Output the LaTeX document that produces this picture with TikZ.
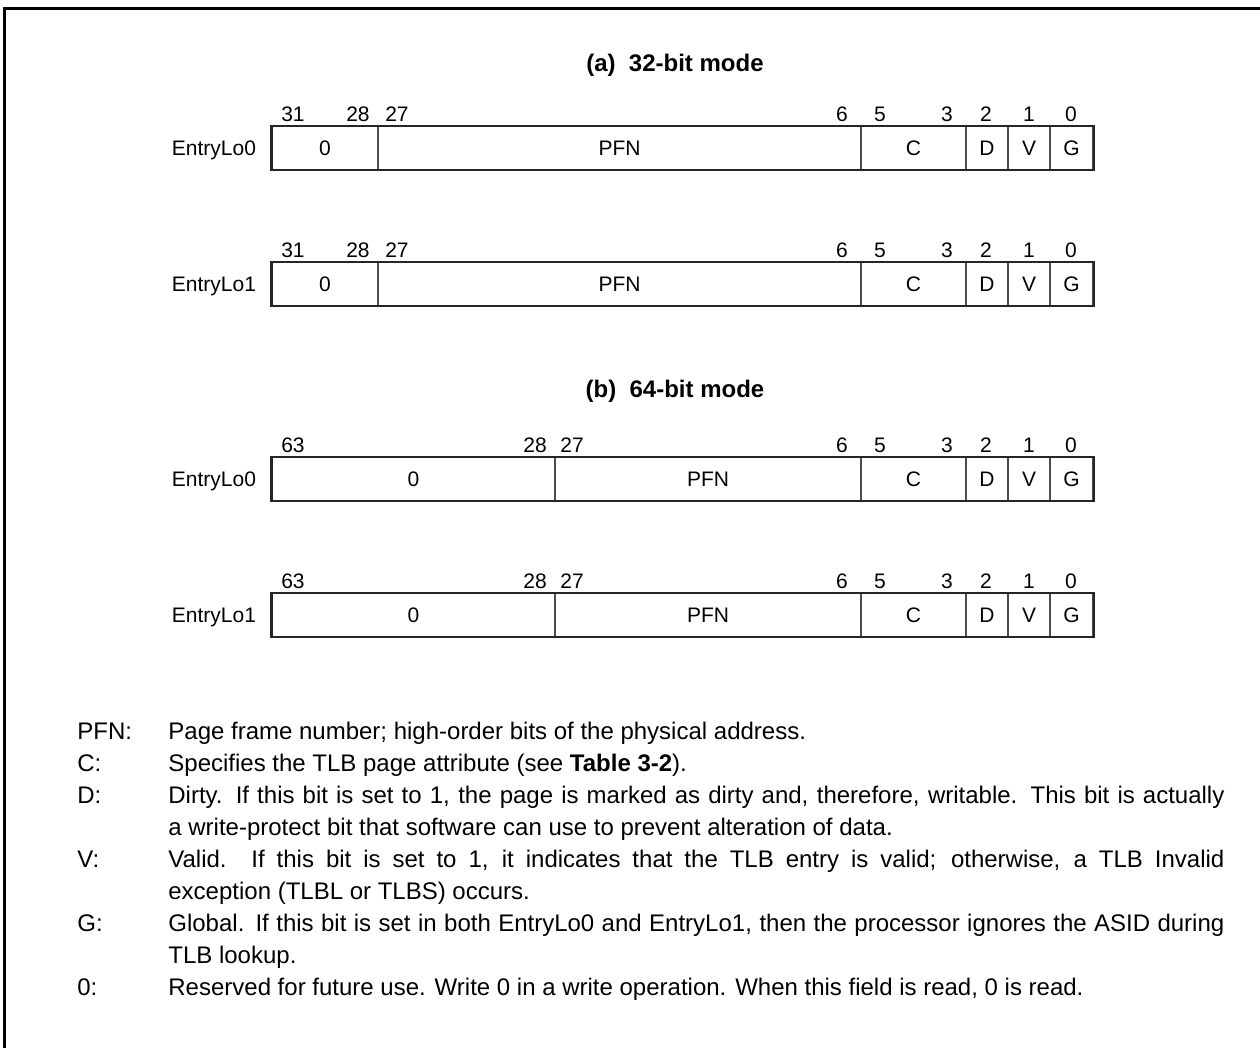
\documentclass[tikz,border=0pt]{standalone}
\usepackage{fontspec}
\setmainfont{Liberation Sans}
\usetikzlibrary{positioning}

\tikzset{
  field/.style={draw=black!70, line width=0.6pt, minimum height=21.5pt, inner sep=0pt},
  regframe/.style={draw=black!85, line width=1.1pt},
  bitnum/.style={inner sep=0pt},
  regname/.style={inner sep=0pt, anchor=base east},
  modetitle/.style={inner sep=0pt, font=\fontsize{12}{14}\selectfont\bfseries},
  keyname/.style={inner sep=0pt, anchor=base west, font=\fontsize{12}{16}\selectfont},
  keytext/.style={inner sep=0pt, anchor=base west, text width=528pt, align=justify, font=\fontsize{12}{16}\selectfont}
}

\begin{document}
\begin{tikzpicture}[x=0.5pt, y=-0.5pt, font=\fontsize{10.5}{13}\selectfont]
    \useasboundingbox (0,0) rectangle (1260,1048);

    % Marco de la figura
    \draw[line width=1.5pt] (4,1048) -- (4,9) -- (1260,9);

    % (a) modo de 32 bits
    \node[modetitle] (titlea) at (675,65) {(a)~~32-bit mode};
    \foreach \r/\y/\name in {1/148/EntryLo0, 2/284/EntryLo1}{
      \foreach \a/\b/\t [count=\i] in {272/378/0, 378/861/PFN, 861/966/C, 966/1008/D, 1008/1050/V, 1050/1093/G}
        \node[field, minimum width={(\b-\a)*0.5pt}] (r\r-\i) at ({(\a+\b)/2},\y) {\t};
      \draw[regframe] (r\r-1.north west) rectangle (r\r-6.south east);
      \node[regname] (n\r) at ([xshift=-7.5pt]r\r-1.base west) {\name};
      \foreach \x/\n in {293/31, 358/28, 397/27, 842/6, 880/5, 947/3, 986/2, 1029/1, 1071/0}
        \node[bitnum] (b\r-\n) at (\x,\y-34) {\n};
    }

    % (b) modo de 64 bits
    \node[modetitle] (titleb) at (675,391) {(b)~~64-bit mode};
    \foreach \r/\y/\name in {3/479/EntryLo0, 4/615/EntryLo1}{
      \foreach \a/\b/\t [count=\i] in {272/555/0, 555/861/PFN, 861/966/C, 966/1008/D, 1008/1050/V, 1050/1093/G}
        \node[field, minimum width={(\b-\a)*0.5pt}] (r\r-\i) at ({(\a+\b)/2},\y) {\t};
      \draw[regframe] (r\r-1.north west) rectangle (r\r-6.south east);
      \node[regname] (n\r) at ([xshift=-7.5pt]r\r-1.base west) {\name};
      \foreach \x/\n in {293/63, 535/28, 572/27, 842/6, 880/5, 947/3, 986/2, 1029/1, 1071/0}
        \node[bitnum] (b\r-\n) at (\x,\y-34) {\n};
    }

    % Descripcion de los campos
    \node[keyname] (kpfn) at (77,739) {PFN:};
    \node[keytext] (tpfn) at (168,739) {Page frame number; high-order bits of the physical address.};
    \node[keyname] (kc) at (77,771) {C:};
    \node[keytext] (tc) at (168,771) {Specifies the TLB page attribute (see \textbf{Table 3-2}).};
    \node[keyname] (kd) at (77,803) {D:};
    \node[keytext] (td) at (168,803) {Dirty.  If this bit is set to 1, the page is marked as dirty and, therefore, writable.  This bit is actually\linebreak a write-protect bit that software can use to prevent alteration of data.};
    \node[keyname] (kv) at (77,867) {V:};
    \node[keytext] (tv) at (168,867) {Valid.  If this bit is set to 1, it indicates that the TLB entry is valid; otherwise, a TLB Invalid\linebreak exception (TLBL or TLBS) occurs.};
    \node[keyname] (kg) at (77,931) {G:};
    \node[keytext] (tg) at (168,931) {Global.  If this bit is set in both EntryLo0 and EntryLo1, then the processor ignores the ASID during\linebreak TLB lookup.};
    \node[keyname] (k0) at (77,995) {0:};
    \node[keytext] (t0) at (168,995) {Reserved for future use.  Write 0 in a write operation.  When this field is read, 0 is read.};
\end{tikzpicture}
\end{document}
